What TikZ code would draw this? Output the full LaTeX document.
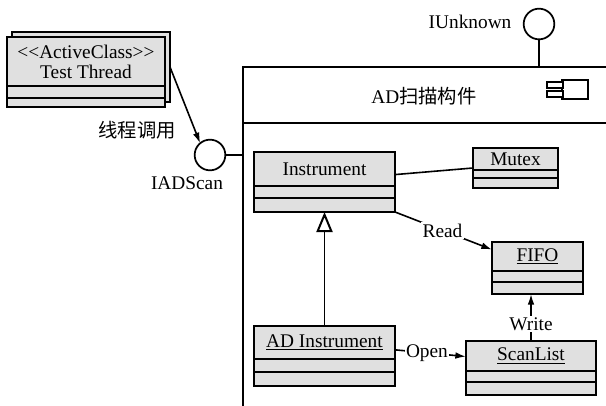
\documentclass[tikz,border=0pt]{standalone}
\usepackage{fontspec}
\setmainfont{Liberation Serif}
\newfontfamily\cjk{Noto Sans CJK SC}
\usetikzlibrary{arrows.meta}

\tikzset{
  classbox/.style={draw, fill=black!12, line width=1.5pt, inner sep=0pt, outer sep=0pt, anchor=north west},
  classname/.style={font=\fontsize{14.5}{15}\selectfont, inner sep=0pt, align=center},
  lbl/.style={font=\fontsize{14.5}{15}\selectfont, inner sep=1pt},
  iface/.style={draw, circle, line width=1.3pt, minimum size=23pt, inner sep=0pt, outer sep=0pt, fill=white},
  conn/.style={line width=1.2pt},
}

% class box: name, left, top, width, name height, attr height, op height, text
\newcommand{\umlclass}[8]{%
  \node[classbox, minimum width={#4*0.75pt}, minimum height={(#5+#6+#7)*0.75pt}] (#1) at (#2,#3) {};
  \draw[line width=1.5pt] (#1.north west) ++(0,#5) -- ++(#4,0) ++(0,#6) -- ++(-#4,0);
  \path (#1.north west) ++(#4/2,#5/2) node[classname] (#1-name) {#8};
}

\begin{document}
\begin{tikzpicture}[x=0.75pt,y=0.75pt,yscale=-1,xscale=1]
\useasboundingbox (0,0) rectangle (606,406);
\clip (0,0) rectangle (606,406);

%Shape: Component
\node[draw, line width=1.5pt, anchor=north west, minimum width={380*0.75pt}, minimum height={360*0.75pt}, inner sep=0pt, outer sep=0pt] (comp) at (243,67) {};
\draw[line width=1.5pt] (comp.north west) ++(0,56) -- ++(380,0);
% Text Node
\node[lbl] (comptitle) at (424,96) {AD{\cjk 扫描构件}};
%Shape: Component icon
\draw[line width=1.3pt, fill=white] (562,80) rectangle (588,99);
\draw[line width=1.3pt, fill=white] (547,82) rectangle (563,88);
\draw[line width=1.3pt, fill=white] (547,91) rectangle (563,97);

%Shape: Interfaces
\node[iface] (iunk) at (539,24) {};
\node[iface] (iad) at (210,155) {};
\draw[conn] (iunk.south) -- (iunk.south |- comp.north);
\draw[conn] (iad.east) -- (iad.east -| comp.west);
% Text Node
\node[lbl, anchor=east] (iunklbl) at (513,22) {IUnknown};
\node[lbl] (iadlbl) at (187,183) {IADScan};
\node[lbl] (calllbl) at (137,130) {{\cjk 线程调用}};

%Shape: Active class
\node[classbox, minimum width={158*0.75pt}, minimum height={70*0.75pt}] (thread-bg) at (12,32) {};
\umlclass{thread}{7}{37}{158}{49}{12}{9}{<\kern0pt<ActiveClass>\kern0pt>\\Test Thread}

%Shape: Classes
\umlclass{instr}{254}{152}{141}{34}{12}{14}{Instrument}
\umlclass{mutex}{473}{148}{85}{22}{8}{10}{Mutex}
\umlclass{fifo}{492}{242}{91}{29}{11}{12}{\underline{FIFO}}
\umlclass{adi}{254}{326}{141}{33}{13}{14}{\underline{AD Instrument}}
\umlclass{scan}{466}{341}{130}{30}{11}{13}{\underline{ScanList}}

%Straight Lines
\draw[conn, -{Latex[length=8pt,width=5pt]}] (thread-bg.east) -- (iad.130);
\draw[conn] (instr.6) -- (mutex.west);
\draw[conn, -{Triangle[open,length=15pt,width=12pt,line width=1.5pt]}] (adi.north) -- (instr.south);
\draw[conn, -{Latex[length=8pt,width=5pt]}] (instr.south east) -- node[lbl, fill=white, pos=0.49] (readlbl) {Read} (fifo.158);
\draw[conn, -{Latex[length=8pt,width=5pt]}] (adi.5) -- node[lbl, fill=white, pos=0.45] (openlbl) {Open} (scan.170);
\draw[conn, -{Latex[length=8pt,width=5pt]}] (scan.north) -- node[lbl, fill=white, pos=0.36] (writelbl) {Write} (scan.north |- fifo.south);

\end{tikzpicture}
\end{document}
